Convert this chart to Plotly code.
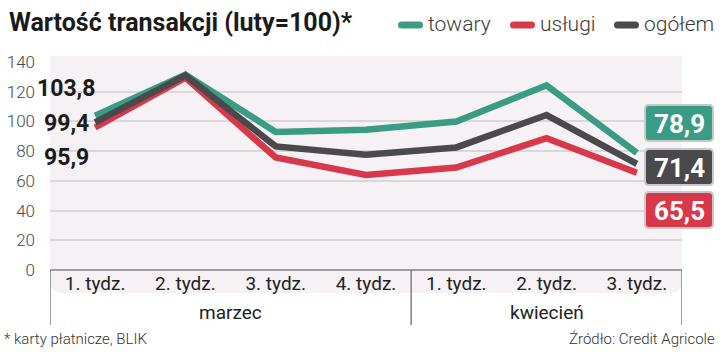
import plotly.graph_objects as go

weeks = ["1. tydz.", "2. tydz.", "3. tydz.", "4. tydz.", "1. tydz.", "2. tydz.", "3. tydz."]
months = ["marzec", "kwiecień"]
month_weeks = [4, 3]
towary = [103.8, 131.5, 92.9, 94.4, 99.9, 124.3, 78.9]
uslugi = [95.9, 129.5, 75.7, 64.0, 69.0, 88.7, 65.5]
ogolem = [99.4, 131.0, 83.2, 77.5, 82.5, 104.3, 71.4]
y_ticks = [0, 20, 40, 60, 80, 100, 120, 140]

GREEN = "#3a9c84"
RED = "#d8394a"
GREY = "#4a4a4c"

W, H = 720, 360
L, R, T, B = 50, 38, 62, 90
PW, PH = W - L - R, H - T - B


def px(x):
    return (x - L) / PW


def py(y):
    return (H - B - y) / PH


def fmt(v):
    return f"{v:.1f}".replace(".", ",")


x = list(range(len(weeks)))
fig = go.Figure()
for name, vals, col in [("usługi", uslugi, RED), ("towary", towary, GREEN), ("ogółem", ogolem, GREY)]:
    fig.add_trace(go.Scatter(x=x, y=vals, mode="lines", name=name,
                             line=dict(color=col, width=6.5), showlegend=False,
                             hoverinfo="skip"))

shapes = []
ann = []

# pink background with rounded bottom corners (pixel path anchored at plot bottom-left)
bw, top, bot, r = PW, 214, -23, 12
shapes.append(dict(type="path", xref="paper", yref="paper", xsizemode="pixel", ysizemode="pixel",
                   xanchor=0, yanchor=0,
                   path=f"M 0,{top} L {bw},{top} L {bw},{bot + r} Q {bw},{bot} {bw - r},{bot} "
                        f"L {r},{bot} Q 0,{bot} 0,{bot + r} Z",
                   fillcolor="#f6f1f4", line=dict(width=0), layer="below"))

# category frame
frame_col = "#808080"
shapes.append(dict(type="line", xref="paper", yref="paper", x0=0, x1=1, y0=0, y1=0,
                   line=dict(color=frame_col, width=1.5), layer="above"))
bounds = [-0.5]
acc = -0.5
for n in month_weeks:
    acc += n
    bounds.append(acc)
for b in bounds:
    shapes.append(dict(type="line", xref="x", yref="paper", x0=b, x1=b, y0=0, y1=py(325),
                       line=dict(color=frame_col, width=1.5), layer="above"))
for i, m in enumerate(months):
    ann.append(dict(x=(bounds[i] + bounds[i + 1]) / 2, y=py(312), xref="x", yref="paper",
                    text=m, showarrow=False, font=dict(family="Roboto", size=19, color="#222"),
                    xanchor="center", yanchor="middle"))

# title
ann.append(dict(x=px(7), y=py(22), xref="paper", yref="paper", text="<b>Wartość transakcji (luty=100)*</b>",
                showarrow=False, xanchor="left", yanchor="middle",
                font=dict(family="Roboto", size=25, color="#1a1a1a")))

# legend
leg = [("towary", GREEN, 398), ("usługi", RED, 510), ("ogółem", GREY, 614)]
for name, col, x0 in leg:
    h = 3.5
    w = 25
    shapes.append(dict(type="path", xref="paper", yref="paper", xsizemode="pixel", ysizemode="pixel",
                       xanchor=px(x0), yanchor=py(25),
                       path=f"M {h},{-h} L {w - h},{-h} Q {w},{-h} {w},0 Q {w},{h} {w - h},{h} "
                            f"L {h},{h} Q 0,{h} 0,0 Q 0,{-h} {h},{-h} Z",
                       fillcolor=col, line=dict(width=0)))
    ann.append(dict(x=px(x0 + w + 3), y=py(24), xref="paper", yref="paper", text=name,
                    showarrow=False, xanchor="left", yanchor="middle",
                    font=dict(family="Roboto", size=21, color="#3a3a3a", weight=300)))

# left value labels
for val, yy in [(towary[0], 88), (ogolem[0], 123), (uslugi[0], 157)]:
    ann.append(dict(x=px(66), y=py(yy), xref="paper", yref="paper", text=f"<b>{fmt(val)}</b>",
                    showarrow=False, xanchor="center", yanchor="middle",
                    font=dict(family="Roboto", size=23, color="#1a1a1a")))

# right value boxes
for val, col, yc in [(towary[-1], GREEN, 123), (ogolem[-1], GREY, 167), (uslugi[-1], RED, 210)]:
    bw2, bh2, rr = 68, 36, 4
    hw, hh = bw2 / 2, bh2 / 2
    shapes.append(dict(type="path", xref="paper", yref="paper", xsizemode="pixel", ysizemode="pixel",
                       xanchor=px(679), yanchor=py(yc),
                       path=f"M {-hw + rr},{-hh} L {hw - rr},{-hh} Q {hw},{-hh} {hw},{-hh + rr} "
                            f"L {hw},{hh - rr} Q {hw},{hh} {hw - rr},{hh} L {-hw + rr},{hh} "
                            f"Q {-hw},{hh} {-hw},{hh - rr} L {-hw},{-hh + rr} Q {-hw},{-hh} {-hw + rr},{-hh} Z",
                       fillcolor=col, line=dict(color="#c8c8c8", width=2)))
    ann.append(dict(x=px(679), y=py(yc + 1), xref="paper", yref="paper", text=f"<b>{fmt(val)}</b>",
                    showarrow=False, xanchor="center", yanchor="middle",
                    font=dict(family="Roboto", size=26, color="white")))

# footer
ann.append(dict(x=px(2), y=py(339), xref="paper", yref="paper", text="* karty płatnicze, BLIK",
                showarrow=False, xanchor="left", yanchor="middle",
                font=dict(family="Roboto", size=15, color="#333", weight=300)))
ann.append(dict(x=px(717), y=py(339), xref="paper", yref="paper", text="Źródło: Credit Agricole",
                showarrow=False, xanchor="right", yanchor="middle",
                font=dict(family="Roboto", size=15, color="#333", weight=300)))

fig.update_layout(
    width=W, height=H, margin=dict(l=L, r=R, t=T, b=B, autoexpand=False),
    paper_bgcolor="white", plot_bgcolor="rgba(0,0,0,0)",
    shapes=shapes, annotations=ann, showlegend=False, hovermode=False,
    xaxis=dict(range=[-0.5, len(weeks) - 0.5], tickvals=x, ticktext=weeks, showgrid=False,
               zeroline=False, showline=False, ticks="", fixedrange=True, automargin=False,
               tickfont=dict(family="Roboto", size=19, color="#222")),
    yaxis=dict(range=[0, 140], tickvals=y_ticks, showgrid=True, gridcolor="#dcd6da", gridwidth=1.5,
               zeroline=False, showline=False, ticks="", ticklabelstandoff=14, automargin=False,
               fixedrange=True, tickfont=dict(family="Roboto", size=17, color="#4a4a4a", weight=300)),
)

fig.write_html("out.html", config={"displayModeBar": False},
               post_script="document.body.style.margin='0px';")
